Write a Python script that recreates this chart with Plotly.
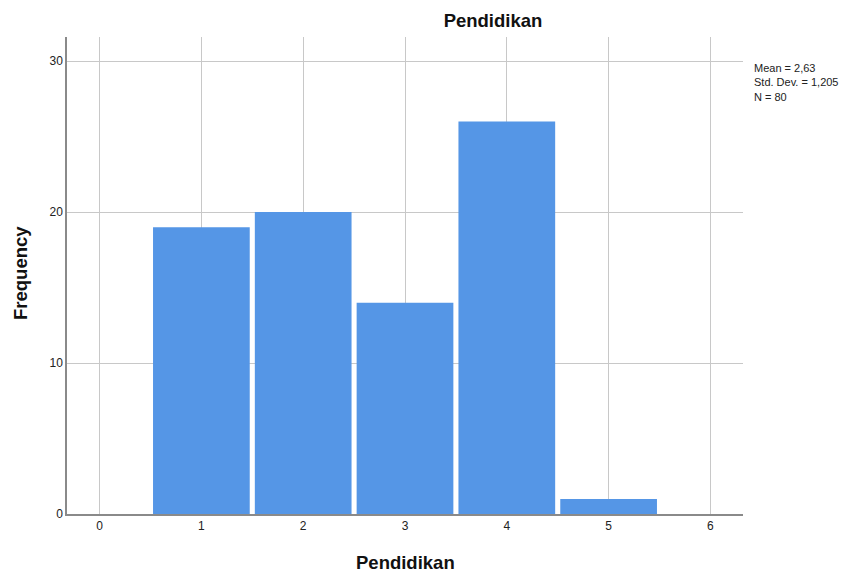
import plotly.graph_objects as go

categories = [1, 2, 3, 4, 5]
frequencies = [19, 20, 14, 26, 1]
x_ticks = [0, 1, 2, 3, 4, 5, 6]
y_ticks = [0, 10, 20, 30]
stats_text = "Mean = 2,63<br>Std. Dev. = 1,205<br>N = 80"

FONT = "Liberation Sans, Arial, sans-serif"
OFF = 8  # page body offset
W, H = 855 - OFF, 573 - OFF
L, R, T, B = 67 - OFF, 743 - OFF, 37 - OFF, 514 - OFF
PW, PH = R - L, B - T


def px(xpage):
    return (xpage - OFF - L) / PW


def py(ypage):
    return (B - (ypage - OFF)) / PH


fig = go.Figure()
fig.add_trace(go.Bar(
    x=categories, y=frequencies, width=0.95,
    marker=dict(color="#5596E6", line=dict(width=0)),
    hoverinfo="x+y",
))

fig.update_layout(
    width=W, height=H,
    margin=dict(l=L, r=W - R, t=T, b=H - B, pad=0, autoexpand=False),
    paper_bgcolor="white", plot_bgcolor="white",
    font=dict(family=FONT, color="#222"),
    showlegend=False,
    title=dict(text="<b>Pendidikan</b>", x=(493 - OFF) / W, xanchor="center",
               y=1 - (21 - OFF) / H, yanchor="middle",
               font=dict(size=18.5, family=FONT, color="#111")),
    xaxis=dict(
        range=[-0.32, 6.32], tickvals=x_ticks, ticktext=[str(v) for v in x_ticks],
        showgrid=True, gridcolor="#c8c8c8", gridwidth=1,
        showline=True, linecolor="#8a8a8a", linewidth=1.5,
        ticks="", zeroline=False, automargin=False,
        tickfont=dict(size=12, family=FONT, color="#222"),
    ),
    yaxis=dict(
        range=[0, 31.6], tickvals=y_ticks,
        showgrid=True, gridcolor="#c8c8c8", gridwidth=1,
        showline=True, linecolor="#8a8a8a", linewidth=1.5,
        ticks="", zeroline=False, automargin=False,
        tickfont=dict(size=12, family=FONT, color="#222"),
    ),
    annotations=[
        dict(text=stats_text, xref="paper", yref="paper",
             x=px(752), y=py(60),
             xanchor="left", yanchor="top", align="left", showarrow=False,
             font=dict(size=11, family=FONT, color="#222")),
        dict(text="<b>Pendidikan</b>", xref="paper", yref="paper",
             x=px(406), y=py(562), xanchor="center", yanchor="middle",
             showarrow=False, font=dict(size=18.5, family=FONT, color="#111")),
        dict(text="<b>Frequency</b>", xref="paper", yref="paper",
             x=px(20), y=py(273), xanchor="center", yanchor="middle", textangle=-90,
             showarrow=False, font=dict(size=18.5, family=FONT, color="#111")),
    ],
)

fig.write_html("out.html")
